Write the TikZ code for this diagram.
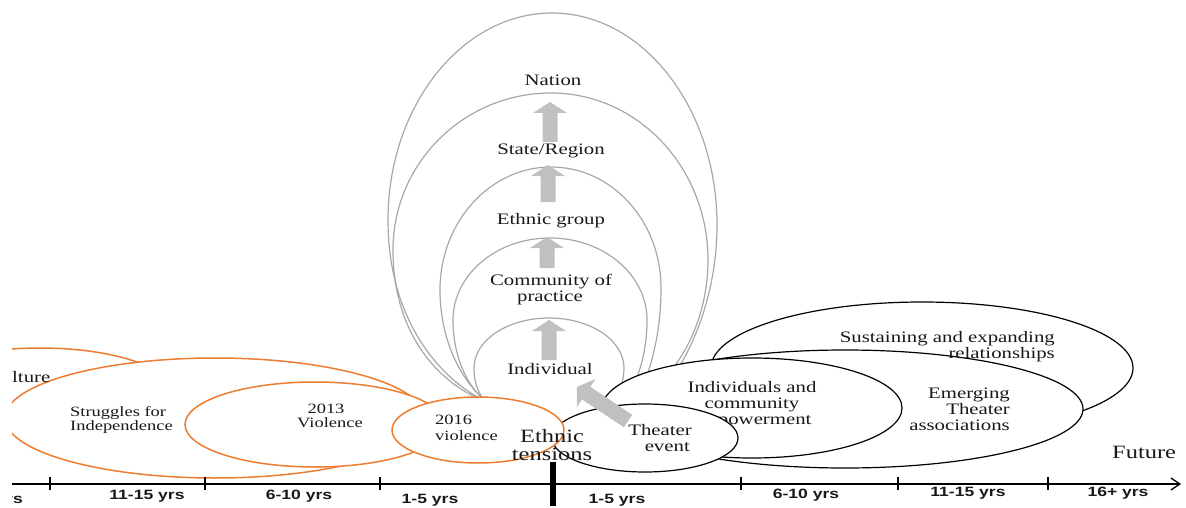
\documentclass[tikz,border=0pt]{standalone}
\usepackage{fontspec}
\setmainfont{Liberation Serif}[FakeStretch=1.3]
\newfontfamily\axisfont{Liberation Sans}[FakeStretch=1.3]
\usetikzlibrary{calc,arrows.meta}
\definecolor{orng}{RGB}{237,125,49}
\definecolor{balgray}{RGB}{168,168,168}
\definecolor{arrfill}{RGB}{192,192,192}
\definecolor{txt}{RGB}{25,25,25}
\newcommand\blockarr[2]{%
  \fill[arrfill] (#1) -- ($(#1)!11pt!(#2)!17pt!90:(#2)$) -- ($(#1)!11pt!(#2)!7.5pt!90:(#2)$)
    -- ($(#2)!7.5pt!-90:(#1)$) -- ($(#2)!7.5pt!90:(#1)$)
    -- ($(#1)!11pt!(#2)!7.5pt!-90:(#2)$) -- ($(#1)!11pt!(#2)!17pt!-90:(#2)$) -- cycle;}
\begin{document}
\begin{tikzpicture}[x=1pt,y=-1pt,
  orl/.style={draw=orng, line width=1.5pt, fill=white},
  bkl/.style={draw=black, line width=1.2pt, fill=white},
  bal/.style={draw=balgray, line width=1.2pt},
  lbl/.style={inner sep=0pt, text=txt, font=\fontsize{16}{18}\selectfont},
  lbls/.style={inner sep=0pt, text=txt, font=\fontsize{14.2}{16}\selectfont},
  big/.style={inner sep=0pt, text=txt, font=\fontsize{18.8}{20}\selectfont},
  axl/.style={inner sep=0pt, text=txt, font=\axisfont\bfseries\fontsize{13.5}{15}\selectfont, anchor=base},
]
\useasboundingbox (0,0) rectangle (1186,508);
\begin{scope}
\clip (12,-5) rectangle (1190,515);
% nested gray balloons
\draw[bal] (487,402) .. controls (440,380) and (388,320) .. (388,220) .. controls (388,106) and (462,13) .. (552,13) .. controls (643,13) and (717,108) .. (717,225) .. controls (717,290) and (695,345) .. (672,378);
\draw[bal] (487,402) .. controls (440,385) and (393,335) .. (393,250) .. controls (393,163) and (464,93) .. (551,93) .. controls (638,93) and (708,168) .. (708,260) .. controls (708,320) and (680,365) .. (660,382);
\draw[bal] (487,402) .. controls (465,385) and (440,345) .. (440,290) .. controls (440,222) and (490,167) .. (551,167) .. controls (612,167) and (661,221) .. (661,288) .. controls (661,335) and (650,370) .. (642,388);
\draw[bal] (487,402) .. controls (470,390) and (453,360) .. (453,320) .. controls (453,275) and (496,238) .. (550,238) .. controls (604,238) and (647,275) .. (647,320) .. controls (647,355) and (637,380) .. (630,392);
\draw[bal] (487,402) .. controls (480,397) and (474,385) .. (474,368) .. controls (474,340) and (508,318) .. (549,318) .. controls (590,318) and (624,340) .. (624,368) .. controls (624,380) and (620,390) .. (616,396);
% black ellipses (future)
\draw[bkl] (922,368) ellipse [x radius=211, y radius=66];
\draw[bkl] (845,409) ellipse [x radius=238, y radius=59];
\draw[bkl] (752,408) ellipse [x radius=150, y radius=50];
\node[lbl, anchor=base] (ind1) at (752,392) {Individuals and};
\node[lbl, anchor=base] (ind2) at (752,408) {community};
\node[lbl, anchor=base] (ind3) at (752,424) {empowerment};
\draw[bkl] (645,438) ellipse [x radius=93, y radius=34];
% orange ellipses (past)
\draw[orl] (40,390) ellipse [x radius=130, y radius=42];
\draw[orl] (215,418) ellipse [x radius=210, y radius=60];
\draw[orl] (315,424.5) ellipse [x radius=130, y radius=42.5];
\draw[orl] (478,430) ellipse [x radius=86, y radius=33];
% block arrows
\coordinate (a1t) at (550,102); \coordinate (a1b) at (550,142);
\coordinate (a2t) at (548,165); \coordinate (a2b) at (548,202);
\coordinate (a3t) at (547,237); \coordinate (a3b) at (547,268);
\coordinate (a4t) at (549,320); \coordinate (a4b) at (549,360);
\coordinate (a5t) at (577,387); \coordinate (a5b) at (628,421);
\blockarr{a1t}{a1b}
\blockarr{a2t}{a2b}
\blockarr{a3t}{a3b}
\blockarr{a4t}{a4b}
\blockarr{a5t}{a5b}
% labels
\node[lbl, anchor=base] (nation) at (553,86) {Nation};
\node[lbl, anchor=base] (state) at (551,155) {State/Region};
\node[lbl, anchor=base] (ethnic) at (551,224) {Ethnic group};
\node[lbl, anchor=base] (comm1) at (551,285) {Community of};
\node[lbl, anchor=base] (comm2) at (550,301) {practice};
\node[lbl, anchor=base] (indiv) at (550,374) {Individual};
\node[lbl, anchor=base west] (cult) at (12,382) {lture};
\node[lbls, anchor=base west] (str1) at (70,416) {Struggles for};
\node[lbls, anchor=base west] (str2) at (70,430) {Independence};
\node[lbls, anchor=base] (v13a) at (326,413) {2013};
\node[lbls, anchor=base] (v13b) at (330,427) {Violence};
\node[lbls, anchor=base west] (v16a) at (435,424) {2016};
\node[lbls, anchor=base west] (v16b) at (435,440) {violence};
\node[big, anchor=base] (et1) at (552,442) {Ethnic};
\node[big, anchor=base] (et2) at (552,460) {tensions};
\node[lbl, anchor=base east] (th1) at (692,435) {Theater};
\node[lbl, anchor=base east] (th2) at (690,451) {event};
\node[lbl, anchor=base east] (em1) at (1010,398) {Emerging};
\node[lbl, anchor=base east] (em2) at (1010,414) {Theater};
\node[lbl, anchor=base east] (em3) at (1010,430) {associations};
\node[lbl, anchor=base east] (su1) at (1055,342) {Sustaining and expanding};
\node[lbl, anchor=base east] (su2) at (1055,358) {relationships};
\node[big, anchor=base west] (fut) at (1112,458) {Future};
% time axis
\coordinate (axL) at (12,484);
\coordinate (axR) at (1181,484);
\draw[line width=1.3pt, -{Straight Barb[length=9pt,width=12pt]}] (axL) -- (axR);
\foreach \x in {50,205,380,741,898,1048} \draw[line width=1.1pt] (\x,477) -- (\x,490);
\fill (550,462) rectangle (556,506);
\node[axl, anchor=base east] (y0) at (23,503) {rs};
\node[axl] (y1) at (147,499) {11-15 yrs};
\node[axl] (y2) at (299,499) {6-10 yrs};
\node[axl] (y3) at (430,503) {1-5 yrs};
\node[axl] (y4) at (617,503) {1-5 yrs};
\node[axl] (y5) at (806,498) {6-10 yrs};
\node[axl] (y6) at (968,496) {11-15 yrs};
\node[axl] (y7) at (1118,496) {16+ yrs};
\end{scope}
\end{tikzpicture}
\end{document}
